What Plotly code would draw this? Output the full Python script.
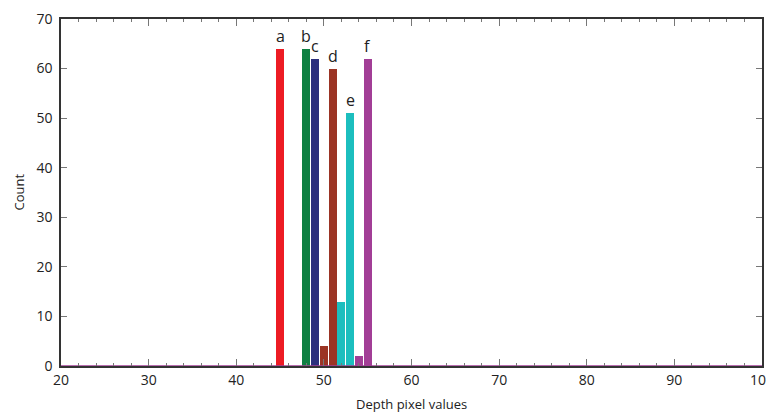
import plotly.graph_objects as go

# data
labels = ["a", "b", "c", "d", "e", "f"]
colors = ["#ED1C24", "#0E8042", "#2B2E7C", "#9B3424", "#1CBEBE", "#A23E96"]
series_x = [[45], [48], [49], [50, 51], [52, 53], [54, 55]]
series_y = [[64], [64], [62], [4, 60], [13, 51], [2, 62]]
label_x = [45, 48, 49, 51, 53, 55]
label_y = [64, 64, 62, 60, 51, 62]
x_ticks = [20, 30, 40, 50, 60, 70, 80, 90, 100]
y_ticks = [0, 10, 20, 30, 40, 50, 60, 70]

fig = go.Figure()
for name, c, xs, ys in zip(labels, colors, series_x, series_y):
    fig.add_trace(go.Bar(x=xs, y=ys, width=0.92, marker=dict(color=c, line=dict(width=0)),
                         name=name, showlegend=False))

# purple baseline
fig.add_trace(go.Scatter(x=[20, 100], y=[0, 0], mode="lines",
                         line=dict(color="#A23E96", width=1.5), showlegend=False, hoverinfo="skip"))

for t, xx, yy in zip(labels, label_x, label_y):
    fig.add_annotation(x=xx, y=yy, text=t, showarrow=False, yanchor="bottom", yshift=0,
                       font=dict(size=16, color="#222"))

# axis titles as annotations for exact placement
fig.add_annotation(x=0.5, y=0, xref="paper", yref="paper", yshift=-38, yanchor="middle",
                   text="Depth pixel values", showarrow=False,
                   font=dict(size=13, color="#222", family="Open Sans"))
fig.add_annotation(x=0, y=0.5, xref="paper", yref="paper", xshift=-43, xanchor="center",
                   text="Count", textangle=-90, showarrow=False,
                   font=dict(size=13, color="#222", family="Open Sans"))

axis_common = dict(showline=True, linecolor="#333", linewidth=1.5, mirror="ticks",
                   ticks="inside", tickcolor="#777", showgrid=False, zeroline=False,
                   automargin=False, ticklabeloverflow="allow",
                   tickfont=dict(size=14, color="#222", family="Open Sans"))

fig.update_xaxes(range=[20, 100], tickvals=x_ticks, ticklen=7,
                 minor=dict(dtick=2, ticks="inside", ticklen=3, tickcolor="#777"),
                 **axis_common)
fig.update_yaxes(range=[0, 70], tickvals=y_ticks, ticklen=6, ticklabelstandoff=4,
                 **axis_common)

# page body has an 8px margin, so the figure is sized/offset to compensate
fig.update_layout(width=766, height=404, margin=dict(l=53, r=12, t=11, b=46),
                  plot_bgcolor="white", paper_bgcolor="white", bargap=0,
                  font=dict(family="Open Sans"))
fig.write_html("out.html")
